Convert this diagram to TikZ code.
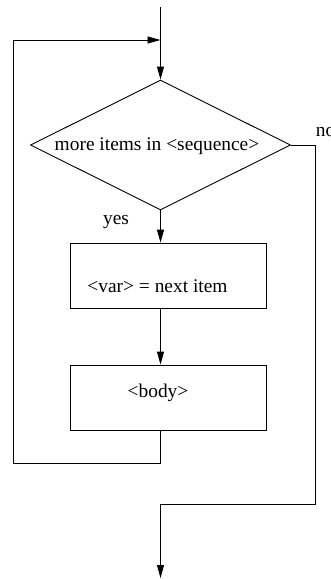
\documentclass[tikz,border=0pt]{standalone}
\usepackage{fontspec}
\setmainfont{Liberation Serif}
\usetikzlibrary{shapes.geometric,arrows.meta}
\begin{document}
\begin{tikzpicture}[x=1pt,y=-1pt, line width=0.9pt,
  arr/.style={-{Triangle[length=13pt,width=7pt]}},
  lbl/.style={font=\fontsize{19.4}{23}\selectfont, inner sep=0pt},
  box/.style={draw, minimum width=196pt, minimum height=65pt, inner sep=0pt},
  dec/.style={draw, diamond, minimum width=260pt, minimum height=130pt, inner sep=0pt, aspect=2}]
\useasboundingbox (0,0) rectangle (331,579);
\coordinate (start) at (160.5,7);
\coordinate (merge) at (160.5,40);
\node[dec] (cond) at (160.5,145) {};
\node[lbl] (condt) at (157,146) {more items in <sequence>};
\node[box] (box1) at (168.5,275.5) {};
\node[lbl] (box1t) at (157.5,286) {<var> = next item};
\node[box] (box2) at (168.5,397.5) {};
\node[lbl] (box2t) at (158,393) {<body>};
\node[lbl] (yes) at (116,222) {yes};
\node[lbl, anchor=west] (no) at (315.5,132) {no};
\coordinate (lb) at (160.5,463);
\coordinate (ll) at (13.5,463);
\coordinate (lt) at (13.5,40);
\coordinate (nr) at (315,145);
\coordinate (nb) at (315,504);
\coordinate (nl) at (160.5,504);
\coordinate (fin) at (160.5,578);
\draw[arr] (start) -- (cond.north);
\draw[arr] (cond.south) -- (cond.south |- box1.north);
\draw[arr] (box1.south -| merge) -- (box2.north -| merge);
\draw[arr] (box2.south -| merge) -- (lb) -- (ll) -- (lt) -- (merge);
\draw[arr] (cond.east) -- (nr) -- (nb) -- (nl) -- (fin);
\end{tikzpicture}
\end{document}
